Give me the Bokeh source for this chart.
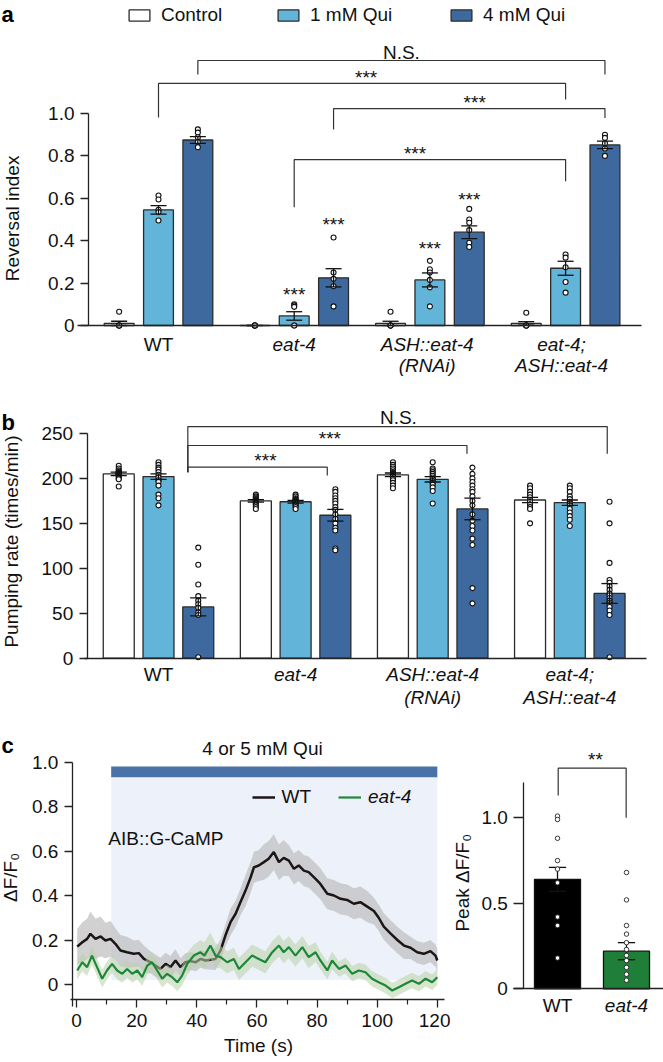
import math
from bokeh.plotting import figure
from bokeh.models import ColumnDataSource, Legend, LegendItem, FixedTicker
from bokeh.layouts import column, row
from bokeh.embed import file_html
from bokeh.resources import INLINE
from bokeh.core.properties import value

FONT = "Liberation Sans"
FS = "19px"
INK = "#222222"
TXT = "#111111"

# ---------------- Panel a data: reversal index ----------------
strain_lines = [["WT"], ["eat-4"], ["ASH::eat-4", "(RNAi)"], ["eat-4;", "ASH::eat-4"]]
strain_italic = [False, True, True, True]
cond_labels = ["Control", "1 mM Qui", "4 mM Qui"]
cond_colors = ["#ffffff", "#62b4d8", "#3e699f"]

rev_ctrl = [0.010, 0.0, 0.010, 0.010]
rev_1mm = [0.545, 0.045, 0.215, 0.270]
rev_4mm = [0.875, 0.225, 0.440, 0.852]
rev_ctrl_sem = [0.010, 0.0, 0.010, 0.008]
rev_1mm_sem = [0.020, 0.020, 0.033, 0.033]
rev_4mm_sem = [0.016, 0.043, 0.030, 0.018]
rev_ctrl_pts = [[0, 0, 0, 0, 0.065], [0, 0, 0, 0, 0], [0, 0, 0, 0, 0.065], [0, 0, 0, 0, 0.06]]
rev_1mm_pts = [[0.613, 0.594, 0.546, 0.535, 0.495], [0.10, 0.095, 0.088, 0.0, 0.0],
               [0.305, 0.265, 0.25, 0.215, 0.18, 0.09], [0.335, 0.32, 0.275, 0.205, 0.155]]
rev_4mm_pts = [[0.925, 0.91, 0.888, 0.865, 0.841], [0.415, 0.25, 0.22, 0.185, 0.09],
               [0.55, 0.50, 0.485, 0.45, 0.39, 0.37], [0.90, 0.885, 0.86, 0.835, 0.80]]
rev_stars_x = [1.0, 1.29, 2.0, 2.29]
rev_stars_y = [0.165, 0.495, 0.385, 0.615]
# brackets: x1, x2, y_top, y_left_end, y_right_end, label, label_x
rev_brackets = [
    (0.29, 3.29, 1.250, 1.184, 1.184, "N.S.", 1.79),
    (0.00, 3.00, 1.142, 0.981, 1.066, "***", 1.53),
    (1.29, 3.29, 1.023, 0.925, 0.979, "***", 2.33),
    (1.00, 3.00, 0.782, 0.558, 0.680, "***", 1.89),
]

# ---------------- Panel b data: pumping rate ----------------
pump_ctrl = [205, 175, 204, 176]
pump_1mm = [202, 174, 199, 173]
pump_4mm = [57, 159, 166, 72]
pump_ctrl_sem = [2, 1.5, 2, 3]
pump_1mm_sem = [3, 1.5, 3, 3]
pump_4mm_sem = [10, 6.5, 12, 11]
pump_ctrl_pts = [
    [214, 211, 209, 208, 207, 206, 206, 205, 205, 204, 204, 203, 202, 200, 199, 191],
    [182, 180, 179, 178, 177, 176, 175, 175, 174, 173, 172, 171, 170, 168, 166],
    [218, 215, 213, 211, 209, 207, 206, 205, 204, 203, 202, 200, 198, 195, 192, 189],
    [192, 189, 185, 182, 179, 176, 174, 171, 168, 166, 150],
]
pump_1mm_pts = [
    [218, 215, 212, 210, 207, 204, 201, 198, 196, 192, 182, 178, 170],
    [182, 180, 178, 177, 176, 175, 174, 173, 172, 171, 170, 168, 166],
    [218, 211, 209, 207, 205, 203, 201, 199, 197, 195, 193, 190, 186, 172],
    [192, 189, 185, 180, 177, 174, 172, 170, 166, 162, 158, 154, 147],
]
pump_4mm_pts = [
    [123, 104, 82, 69, 64, 60, 56, 51, 48, 1],
    [188, 185, 181, 178, 175, 172, 168, 165, 160, 155, 150, 145, 142, 122, 120],
    [212, 205, 200, 196, 192, 188, 185, 180, 175, 170, 160, 153, 147, 142, 133, 126, 78, 61],
    [174, 150, 106, 87, 84, 80, 76, 72, 70, 67, 64, 62, 60, 57, 53, 48, 1],
]
pump_brackets = [
    (0.214, 3.273, 257.7, 206.9, 227.4, "N.S.", 1.75),
    (0.214, 2.250, 236.6, 206.9, 227.4, "***", 1.25),
    (0.214, 1.231, 212.5, 206.9, 203.2, "***", 0.78),
]

# ---------------- Panel c data: AIB calcium imaging ----------------
t_wt = [0.2, 1.9, 3.5, 4.6, 6.3, 8.0, 9.6, 11.3, 12.9, 14.6, 16.8, 19.0, 20.7, 22.4, 24.6,
        26.2, 27.9, 29.6, 31.2, 32.9, 34.6, 36.2, 37.9, 39.6, 41.2, 42.9, 46.2, 47.9, 49.5,
        51.2, 52.9, 54.5, 56.2, 57.9, 59.0, 60.6, 62.3, 63.9, 65.6, 67.3, 68.9, 70.6, 72.3,
        73.9, 75.6, 77.2, 79.5, 81.1, 83.4, 85.6, 87.8, 90.0, 92.2, 94.4, 96.7, 98.9, 100.5,
        102.2, 104.4, 106.7, 108.9, 111.1, 113.3, 115.5, 117.7, 119.4, 120.0]
dff_wt = [0.170, 0.190, 0.205, 0.228, 0.205, 0.216, 0.198, 0.205, 0.183, 0.153, 0.145, 0.138,
          0.141, 0.115, 0.100, 0.085, 0.070, 0.093, 0.078, 0.108, 0.078, 0.100, 0.105, 0.100,
          0.115, 0.108, 0.115, 0.153, 0.220, 0.280, 0.318, 0.370, 0.422, 0.482, 0.527, 0.535,
          0.550, 0.565, 0.595, 0.550, 0.569, 0.557, 0.520, 0.535, 0.512, 0.505, 0.475, 0.452,
          0.408, 0.400, 0.385, 0.380, 0.363, 0.370, 0.350, 0.330, 0.300, 0.260, 0.230, 0.200,
          0.175, 0.165, 0.145, 0.138, 0.150, 0.130, 0.108]
sem_wt = [0.08, 0.09, 0.09, 0.10, 0.09, 0.09, 0.08, 0.08,
          0.07, 0.07, 0.07, 0.06, 0.06, 0.06, 0.05, 0.05, 0.05, 0.05, 0.05, 0.05, 0.04, 0.04, 0.04,
          0.04, 0.04, 0.04, 0.05, 0.05,
          0.05, 0.06, 0.06, 0.06, 0.07, 0.07, 0.07, 0.07, 0.08, 0.08, 0.08, 0.08, 0.08, 0.07,
          0.07, 0.07, 0.07, 0.07, 0.07,
          0.07, 0.07, 0.07, 0.07, 0.07, 0.07, 0.07, 0.07, 0.06, 0.06, 0.06, 0.06, 0.06, 0.06,
          0.05, 0.05, 0.05, 0.05, 0.05, 0.05]
t_e4 = [0.2, 1.9, 3.5, 5.1, 6.8, 8.5, 10.1, 11.8, 13.5, 15.2, 16.8, 18.5, 20.2, 21.8, 23.5,
        25.1, 26.8, 28.5, 30.1, 31.8, 33.5, 35.1, 36.8, 39.0, 41.2, 42.5, 44.5, 46.2, 47.9,
        50.1, 52.3, 54.0, 56.2, 58.4, 60.6, 62.8, 65.1, 67.3, 68.9, 70.6, 72.8, 75.1, 77.2,
        79.5, 81.1, 83.4, 85.0, 87.3, 89.5, 91.7, 93.9, 96.1, 98.3, 100.5, 102.8, 105.0,
        107.2, 109.4, 111.6, 113.9, 116.1, 118.3, 120.0]
dff_e4 = [0.063, 0.100, 0.078, 0.130, 0.078, 0.026, 0.063, 0.093, 0.063, 0.048, 0.070, 0.048,
          0.063, 0.033, 0.085, 0.100, 0.063, 0.026, 0.048, 0.033, 0.010, 0.040, 0.093, 0.130,
          0.145, 0.130, 0.175, 0.130, 0.123, 0.100, 0.115, 0.070, 0.100, 0.130, 0.115, 0.100,
          0.145, 0.175, 0.145, 0.168, 0.130, 0.168, 0.123, 0.145, 0.108, 0.063, 0.108, 0.070,
          0.085, 0.048, 0.063, 0.055, 0.026, 0.010, -0.005, -0.027, -0.012, 0.003, 0.018,
          0.003, 0.026, 0.010, 0.033]
sem_e4 = [0.04, 0.04, 0.04, 0.04, 0.04, 0.04, 0.04, 0.04, 0.04, 0.04, 0.04, 0.04, 0.04, 0.04,
          0.04, 0.04, 0.04, 0.04, 0.04, 0.04, 0.04, 0.045, 0.05, 0.05, 0.055, 0.06, 0.06, 0.055,
          0.05, 0.05, 0.05, 0.05, 0.05, 0.05, 0.05, 0.05, 0.05, 0.05, 0.05, 0.05, 0.05, 0.05,
          0.05, 0.045, 0.04, 0.04, 0.04, 0.035, 0.035, 0.035, 0.035, 0.035, 0.035, 0.035, 0.035,
          0.035, 0.035, 0.035, 0.035, 0.035, 0.035, 0.035, 0.035]
stim_on, stim_off = 11.5, 120.0
peak_groups = ["WT", "eat-4"]
peak_italic = [False, True]
peak_colors = ["#000000", "#1f7f38"]
peak_mean = [0.64, 0.22]
peak_sem = [0.07, 0.05]
peak_pts = [[1.01, 0.99, 0.88, 0.75, 0.70, 0.62, 0.42, 0.37, 0.18],
            [0.68, 0.52, 0.37, 0.32, 0.27, 0.23, 0.195, 0.165, 0.125, 0.085, 0.05]]

OFFS = [-0.29, 0.0, 0.29]


class Frame:
    """Maps page pixels onto the data space of one figure whose frame fills its canvas."""

    def __init__(self, left, top, w, h, x0, xs, y0, ys):
        self.left, self.top, self.w, self.h = left, top, w, h
        self.x0, self.xs, self.y0, self.ys = x0, xs, y0, ys

    def fx(self, px):
        return (px - self.x0) / self.xs

    def fy(self, py):
        return (self.y0 - py) / self.ys

    def fig(self):
        p = figure(output_backend="svg", toolbar_location=None, width=self.w, height=self.h,
                   x_range=(self.fx(self.left), self.fx(self.left + self.w)),
                   y_range=(self.fy(self.top + self.h), self.fy(self.top)), min_border=0)
        p.outline_line_color = None
        p.xgrid.visible = False
        p.ygrid.visible = False
        p.background_fill_color = "white"
        p.border_fill_color = "white"
        return p

    def legend_loc(self, px_left, py_center, item_h=20):
        return (px_left - self.left, self.top + self.h - py_center - item_h / 2)


def style_axis(ax, tick_out=8, standoff=6):
    ax.axis_line_color = INK
    ax.axis_line_width = 1.3
    ax.major_tick_line_color = INK
    ax.major_tick_line_width = 1.3
    ax.major_tick_out = tick_out
    ax.major_tick_in = 0
    ax.minor_tick_line_color = None
    ax.major_label_text_font = FONT
    ax.major_label_text_font_size = FS
    ax.major_label_text_color = TXT
    ax.major_label_standoff = standoff


def txt(p, x, y, s, align="center", baseline="middle", style="normal", angle=0, size=FS, color=TXT):
    p.text(x=[x], y=[y], text=[s], angle=angle, text_font=value(FONT), text_font_size=size,
           text_font_style=style, text_align=align, text_baseline=baseline, text_color=color)


def draw_bar_groups(p, means, sems, pts, bw, cap):
    rends = []
    for k in range(3):
        src = ColumnDataSource(dict(x=[i + OFFS[k] for i in range(4)], top=means[k]))
        r = p.vbar(x="x", top="top", bottom=0, width=bw, source=src,
                   fill_color=cond_colors[k], line_color="#2b2b2b", line_width=1.3)
        rends.append(r)
    for k in range(3):
        for i in range(4):
            ys = pts[k][i]
            p.scatter([i + OFFS[k]] * len(ys), ys, size=5, marker="circle",
                      fill_color="white", line_color="#111", line_width=1.1)
    xs, ys = [], []
    for k in range(3):
        for i in range(4):
            x = i + OFFS[k]
            m, s = means[k][i], sems[k][i]
            xs += [[x, x], [x - cap / 2, x + cap / 2], [x - cap / 2, x + cap / 2]]
            ys += [[m - s, m + s], [m + s, m + s], [m - s, m - s]]
    p.multi_line(xs, ys, line_color="#111", line_width=1.3)
    return rends


def draw_brackets(p, brackets, text_dy):
    xs, ys = [], []
    for (x1, x2, yt, yl, yr, lab, lx) in brackets:
        xs.append([x1, x1, x2, x2])
        ys.append([yl, yt, yt, yr])
    p.multi_line(xs, ys, line_color="#333", line_width=1.2)
    for (x1, x2, yt, yl, yr, lab, lx) in brackets:
        txt(p, lx, yt + text_dy(lab), lab)


def strain_labels(p, xs_lines, ys):
    for i, lines in enumerate(strain_lines):
        for j, t in enumerate(lines):
            txt(p, xs_lines[i][j], ys[j], t, style="italic" if strain_italic[i] else "normal")


def bar_legends(p, F, rends, box_lefts, py_center):
    for k in range(3):
        p.add_layout(Legend(items=[LegendItem(label=cond_labels[k], renderers=[rends[k]])],
                            location=F.legend_loc(box_lefts[k], py_center), glyph_width=26,
                            glyph_height=14, label_standoff=9, padding=0, margin=0,
                            border_line_alpha=0, background_fill_alpha=0, label_text_font=FONT,
                            label_text_font_size=FS, label_text_color=TXT, label_height=20))


# ======================= Panel a =======================
FA = Frame(0, 0, 663, 395, 158, 135.7, 325, 212)
pa = FA.fig()
ya = pa.yaxis[0]
style_axis(ya, 8, 6)
ya.fixed_location = FA.fx(88)
ya.bounds = (0, 1)
ya.ticker = FixedTicker(ticks=[0, 0.2, 0.4, 0.6, 0.8, 1.0])
ya.major_label_overrides = {0: "0", 0.2: "0.2", 0.4: "0.4", 0.6: "0.6", 0.8: "0.8", 1.0: "1.0"}
xa = pa.xaxis[0]
style_axis(xa, 0, 0)
xa.fixed_location = 0
xa.bounds = (FA.fx(77), FA.fx(640.6))
xa.ticker = FixedTicker(ticks=[])
rends_a = draw_bar_groups(pa, [rev_ctrl, rev_1mm, rev_4mm], [rev_ctrl_sem, rev_1mm_sem, rev_4mm_sem],
                          [rev_ctrl_pts, rev_1mm_pts, rev_4mm_pts], 0.22, 0.118)
draw_brackets(pa, rev_brackets, lambda lab: (0.038 if lab == "N.S." else 0.028))
pa.text(x=rev_stars_x, y=[v - 0.02 for v in rev_stars_y], text=["***"] * 4, text_font=value(FONT),
        text_font_size=FS, text_align="center", text_baseline="middle", text_color=TXT)
strain_labels(pa, [[0.0], [1.0], [1.98, 1.98], [2.97, 2.97]], [FA.fy(344), FA.fy(365)])
bar_legends(pa, FA, rends_a, [126, 275, 448], 16)
txt(pa, FA.fx(11.6), 0.505, "Reversal index", angle=math.pi / 2)
txt(pa, FA.fx(1), FA.fy(13.5), "a", align="left", baseline="alphabetic", style="bold", size="22px",
    color="#000")

# ======================= Panel b =======================
FB = Frame(0, 395, 663, 320, 158, 137.1, 657.7, 0.899)
pb = FB.fig()
yb = pb.yaxis[0]
style_axis(yb, 8, 6)
yb.fixed_location = FB.fx(86.7)
yb.bounds = (0, 250)
yb.ticker = FixedTicker(ticks=[0, 50, 100, 150, 200, 250])
xb = pb.xaxis[0]
style_axis(xb, 0, 0)
xb.fixed_location = 0
xb.bounds = (FB.fx(84), FB.fx(646))
xb.ticker = FixedTicker(ticks=[])
draw_bar_groups(pb, [pump_ctrl, pump_1mm, pump_4mm], [pump_ctrl_sem, pump_1mm_sem, pump_4mm_sem],
                [pump_ctrl_pts, pump_1mm_pts, pump_4mm_pts], 0.226, 0.118)
draw_brackets(pb, pump_brackets, lambda lab: (10.3 if lab == "N.S." else 7.5))
strain_labels(pb, [[0.0], [1.0], [2.0, 2.0], [3.0, 3.0]], [FB.fy(674), FB.fy(697)])
txt(pb, FB.fx(10.5), FB.fy(541), "Pumping rate (times/min)", angle=math.pi / 2)
txt(pb, FB.fx(1), FB.fy(421.5), "b", align="left", baseline="alphabetic", style="bold", size="22px",
    color="#000")

# ======================= Panel c (trace) =======================
FC = Frame(0, 715, 450, 347, 76.1, 3.006, 984, 222.5)
pc = FC.fig()
yc = pc.yaxis[0]
style_axis(yc, 8, 6)
yc.fixed_location = FC.fx(71.9)
yc.bounds = (FC.fy(1006), 1.0)
yc.ticker = FixedTicker(ticks=[0, 0.2, 0.4, 0.6, 0.8, 1.0])
yc.major_label_overrides = {0: "0", 0.2: "0.2", 0.4: "0.4", 0.6: "0.6", 0.8: "0.8", 1.0: "1.0"}
xc = pc.xaxis[0]
style_axis(xc, 8, 6)
xc.fixed_location = FC.fy(999.3)
xc.bounds = (FC.fx(69.8), FC.fx(444))
xc.ticker = FixedTicker(ticks=[0, 20, 40, 60, 80, 100, 120], minor_ticks=[10, 30, 50, 70, 90, 110])
xc.minor_tick_line_color = INK
xc.minor_tick_line_width = 1.2
xc.minor_tick_out = 5
xc.minor_tick_in = 0
pc.quad(left=[stim_on], right=[stim_off], bottom=[0.02], top=[0.932], fill_color="#edf2fa",
        line_color=None)
pc.quad(left=[stim_on], right=[stim_off], bottom=[0.932], top=[0.98], fill_color="#4a72a9",
        line_color=None)
pc.varea(x=t_wt, y1=[v - s for v, s in zip(dff_wt, sem_wt)], y2=[v + s for v, s in zip(dff_wt, sem_wt)],
         fill_color="#bdbdbd", fill_alpha=0.7)
r_wt = pc.line(t_wt, dff_wt, line_color="#1c1516", line_width=2.5)
pc.varea(x=t_e4, y1=[v - s for v, s in zip(dff_e4, sem_e4)], y2=[v + s for v, s in zip(dff_e4, sem_e4)],
         fill_color="#b9d1a8", fill_alpha=0.55)
r_e4 = pc.line(t_e4, dff_e4, line_color="#1d8738", line_width=2.2)
for lab, r, px, style in [("WT", r_wt, 251.6, "normal"), ("eat-4", r_e4, 338, "italic")]:
    pc.add_layout(Legend(items=[LegendItem(label=lab, renderers=[r])], location=FC.legend_loc(px, 798),
                         glyph_width=23, glyph_height=20, label_standoff=7, padding=0, margin=0,
                         border_line_alpha=0, background_fill_alpha=0, label_text_font=FONT,
                         label_text_font_size=FS, label_text_font_style=style,
                         label_text_color=TXT, label_height=20))
txt(pc, FC.fx(262), FC.fy(748), "4 or 5 mM Qui")
txt(pc, FC.fx(107.8), FC.fy(838), "AIB::G-CaMP", align="left")
txt(pc, FC.fx(258), FC.fy(1045), "Time (s)")
txt(pc, FC.fx(10), FC.fy(877), "\u0394F/F\u2080", angle=math.pi / 2)
txt(pc, FC.fx(1), FC.fy(745), "c", align="left", baseline="alphabetic", style="bold", size="22px",
    color="#000")

# ======================= Panel c (peak bars) =======================
FD = Frame(450, 715, 213, 347, 557, 69.0, 988.3, 171.0)
pd_ = FD.fig()
yd = pd_.yaxis[0]
style_axis(yd, 10, 6)
yd.fixed_location = FD.fx(523.3)
yd.bounds = (0, 1.208)
yd.ticker = FixedTicker(ticks=[0, 0.5, 1.0])
yd.major_label_overrides = {0: "0", 0.5: "0.5", 1.0: "1.0"}
xd = pd_.xaxis[0]
style_axis(xd, 0, 0)
xd.fixed_location = 0
xd.bounds = (FD.fx(513.3), FD.fx(663))
xd.ticker = FixedTicker(ticks=[])
pd_.vbar(x=[0, 1], top=peak_mean, bottom=0, width=0.667, fill_color=peak_colors,
         line_color="#111", line_width=1.3)
exs, eys = [], []
for i in range(2):
    m, s = peak_mean[i], peak_sem[i]
    exs += [[i, i], [i - 0.125, i + 0.125], [i - 0.125, i + 0.125]]
    eys += [[m - s, m + s], [m + s, m + s], [m - s, m - s]]
pd_.multi_line(exs, eys, line_color="#111", line_width=1.3)
for i in range(2):
    pd_.scatter([i] * len(peak_pts[i]), peak_pts[i], size=4.5, marker="circle",
                fill_color="white", line_color="#222", line_width=0.9)
pd_.multi_line([[0.01, 0.01, 0.995, 0.995]], [[1.13, 1.29, 1.29, 1.0]], line_color="#333",
               line_width=1.2)
txt(pd_, 0.55, 1.364 - 0.025, "**")
for i in range(2):
    txt(pd_, i, FD.fy(1005), peak_groups[i], style="italic" if peak_italic[i] else "normal")
txt(pd_, FD.fx(462), 0.62, "Peak \u0394F/F\u2080", angle=math.pi / 2)

layout = column(pa, pb, row(pc, pd_))
open("out.html", "w").write(file_html(layout, INLINE))
